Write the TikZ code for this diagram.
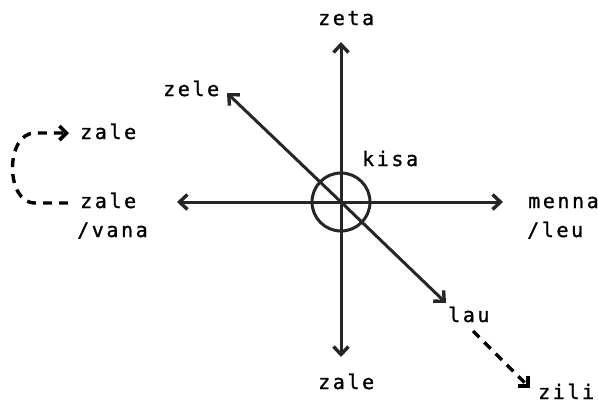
\documentclass[tikz,border=0pt]{standalone}
\usepackage{fontspec}
\setmonofont[LetterSpace=13,FakeBold=1.2]{DejaVu Sans Mono}
\usetikzlibrary{arrows.meta}
\begin{document}
\begin{tikzpicture}[x=1pt,y=-1pt,
  lbl/.style={anchor=base west,inner sep=0pt,font=\ttfamily\fontsize{20}{24}\selectfont,text=black},
  axis/.style={line width=3pt,draw=black!85,-{Straight Barb[length=8pt,width=15pt,line width=3.4pt]}},
  dasharrow/.style={line width=3.4pt,draw=black,dash pattern=on 9pt off 7pt,-{Straight Barb[length=7pt,width=14pt,line width=3.6pt]}}]
\useasboundingbox (0,0) rectangle (598,405);
\fill[white] (0,0) rectangle (598,405);
\coordinate (c) at (341,202);
\coordinate (top) at (341,42);
\coordinate (bot) at (341,357);
\coordinate (lft) at (177,202);
\coordinate (rgt) at (503,202);
\coordinate (ul) at (227,93);
\coordinate (lr) at (446,303);
\node[circle,draw=black!85,line width=3pt,minimum size=58pt,inner sep=0pt] (circ) at (c) {};
\draw[axis] (c) -- (top);
\draw[axis] (c) -- (bot);
\draw[axis] (c) -- (lft);
\draw[axis] (c) -- (rgt);
\draw[axis] (c) -- (ul);
\draw[axis] (c) -- (lr);
\node[lbl] (zeta) at (318,25) {zeta};
\node[lbl] (zele) at (163,96) {zele};
\node[lbl] (kisa) at (362,166) {kisa};
\node[lbl] (zaletop) at (80,139) {zale};
\node[lbl] (zaleleft) at (80,208) {zale};
\node[lbl] (vana) at (77,237) {/vana};
\node[lbl] (menna) at (528,208) {menna};
\node[lbl] (leu) at (527,237) {/leu};
\node[lbl] (zalebot) at (318,389) {zale};
\node[lbl] (lau) at (448,322) {lau};
\node[lbl] (zili) at (538,399) {zili};
\coordinate (d1) at (473,331);
\coordinate (d2) at (530,388);
\draw[dasharrow] (d1) -- (d2);
\coordinate (l1) at (68,203);
\coordinate (l2) at (69,133);
\draw[dasharrow] (l1) -- (35,203) .. controls (5,203) and (5,133) .. (35,133) -- (l2);
\end{tikzpicture}
\end{document}
